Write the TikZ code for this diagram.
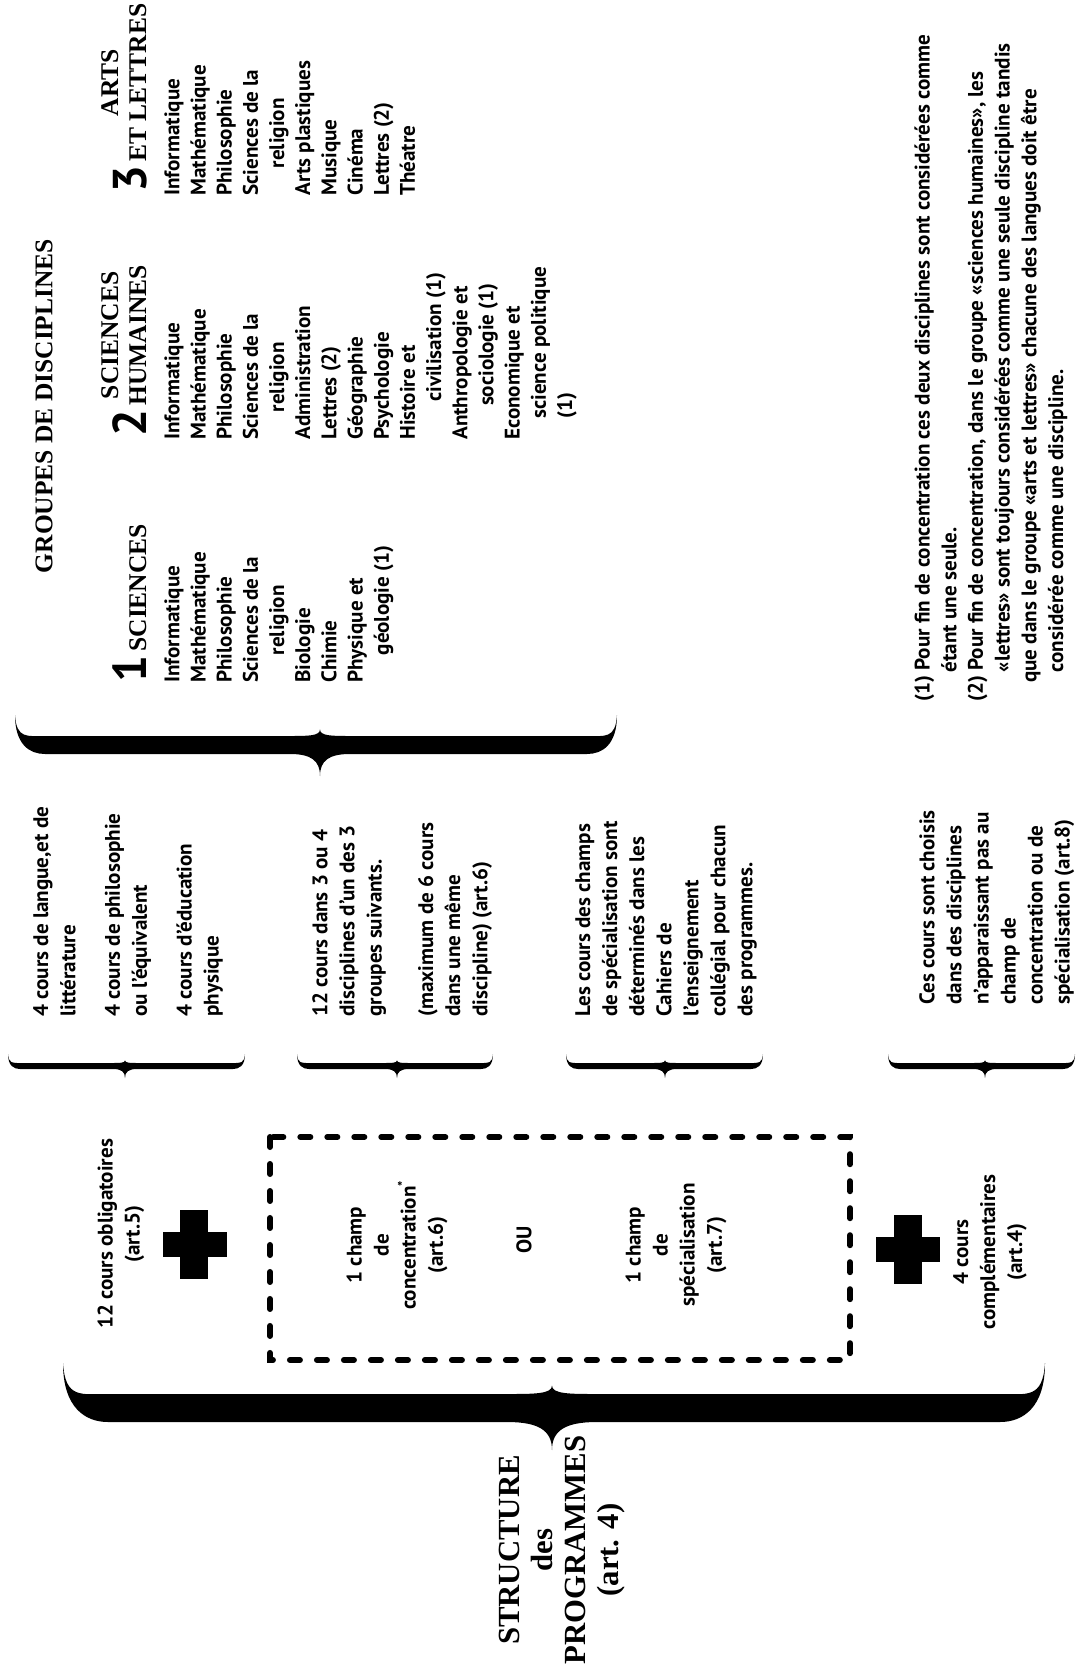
\documentclass[tikz,border=0pt]{standalone}
\usepackage{fontspec}
\setmainfont{Liberation Serif}
\setsansfont{PT Sans}

\newcommand\gnum[1]{{\sffamily\bfseries\fontsize{27}{27}\selectfont\smash{#1}}}
% filled brace: x1, x2, tip x, middle y, half width, curl, tip length
\newcommand\fatbrace[7]{%
  \fill (#1,{#4-#6}) .. controls (#1,#4) and ({#1+0.5*#6},{#4+#5}) .. ({#1+#6},{#4+#5})
    -- ({#3-#6},{#4+#5}) .. controls ({#3-0.3*#6},{#4+#5}) and (#3,{#4+#5+0.3*#7}) .. (#3,{#4+#5+#7})
    .. controls (#3,{#4+#5+0.3*#7}) and ({#3+0.3*#6},{#4+#5}) .. ({#3+#6},{#4+#5})
    -- ({#2-#6},{#4+#5}) .. controls ({#2-0.5*#6},{#4+#5}) and (#2,#4) .. (#2,{#4-#6})
    .. controls ({#2-0.05*#6},{#4-0.2*#6}) and ({#2-0.4*#6},{#4-#5}) .. ({#2-#6},{#4-#5})
    -- ({#3+#6},{#4-#5}) .. controls ({#3+0.4*#6},{#4-#5}) and (#3,{#4-#5}) .. (#3,{#4-#5-0.3*#7})
    .. controls (#3,{#4-#5}) and ({#3-0.4*#6},{#4-#5}) .. ({#3-#6},{#4-#5})
    -- ({#1+#6},{#4-#5}) .. controls ({#1+0.4*#6},{#4-#5}) and ({#1+0.05*#6},{#4-0.2*#6}) .. (#1,{#4-#6}) -- cycle;}

\tikzset{
  txt/.style={rotate=90,inner sep=0pt,font=\sffamily\bfseries\fontsize{12}{15.4}\selectfont},
  blk/.style={txt,anchor=north west,align=left},
  ctr/.style={txt,anchor=center,align=center},
  list/.style={blk,font=\sffamily\bfseries\fontsize{12}{14.9}\selectfont},
  head/.style={rotate=90,inner sep=0pt,anchor=south west,font=\rmfamily\bfseries\fontsize{14.5}{16}\selectfont},
  note/.style={blk,font=\sffamily\bfseries\fontsize{12}{15.2}\selectfont},
  dashbox/.style={line width=0.12cm,dash pattern=on 0.2cm off 0.34cm,line cap=round}
}

\begin{document}
\begin{tikzpicture}[x=0.02cm,y=-0.02cm]
\fill[white] (0,0) rectangle (1078,1669);
\useasboundingbox (0,0) rectangle (1078,1669);

% groupes de disciplines
\node [head,anchor=center] (groupes) at (44,406) {GROUPES DE DISCIPLINES};
\node [head] (sci) at (155,683) {\begin{tabular}{@{}l@{\,}c@{}}\gnum{1} & SCIENCES\end{tabular}};
\node [head] (hum) at (155,437) {\begin{tabular}{@{}l@{\,}c@{}} & SCIENCES\\ \gnum{2} & HUMAINES\end{tabular}};
\node [head] (arts) at (155,193) {\begin{tabular}{@{}l@{\,}c@{}} & ARTS\\ \gnum{3} & ET LETTRES\end{tabular}};

\node [list] (scilist) at (164,683) {Informatique\\Mathématique\\Philosophie\\Sciences de la\\\hspace*{1.3em}religion\\Biologie\\Chimie\\Physique et\\\hspace*{1.3em}géologie (1)}; %Sciences
\node [list] (humlist) at (164,440) {Informatique\\Mathématique\\Philosophie\\Sciences de la\\\hspace*{1.3em}religion\\Administration\\Lettres (2)\\Géographie\\Psychologie\\Histoire et\\\hspace*{1.8em}civilisation (1)\\Anthropologie et\\\hspace*{1.6em}sociologie (1)\\Economique et\\\hspace*{1em}science politique\\\hspace*{1em}(1)}; %Sciences humaines
\node [list] (artslist) at (164,196) {Informatique\\Mathématique\\Philosophie\\Sciences de la\\\hspace*{1.3em}religion\\Arts plastiques\\Musique\\Cinéma\\Lettres (2)\\Théatre}; %Arts et lettres

\fatbrace{15}{617}{320}{745}{9}{30}{22} %brace of groups

% details of each part
\node [blk] (obligdet) at (33,1017) {4 cours de langue,et de\\littérature\\[10pt]4 cours de philosophie\\ou l'équivalent\\[10pt]4 cours d'éducation\\physique};
\node [blk] (concdet) at (312,1017) {12 cours dans 3 ou 4\\disciplines d'un des 3\\groupes suivants.\\[14pt](maximum de 6 cours\\dans une même\\discipline) (art.6)};
\node [blk] (specdet) at (575,1017) {Les cours des champs\\de spécialisation sont\\déterminés dans les\\Cahiers de\\l'enseignement\\collégial pour chacun\\des programmes.};
\node [blk] (compldet) at (919,1005) {Ces cours sont choisis\\dans des disciplines\\n'apparaissant pas au\\champ de\\concentration ou de\\spécialisation (art.8)};

\fatbrace{8}{245}{125}{1066}{3}{12}{9}
\fatbrace{297}{493}{397}{1066}{3}{12}{9}
\fatbrace{566}{763}{665}{1066}{3}{12}{9}
\fatbrace{888}{1075}{985}{1066}{3}{12}{9}

% structure
\node [ctr] (oblig) at (121,1234) {12 cours obligatoires\\(art.5)};
\fill (180,1210) rectangle (208,1279); %plus
\fill (163,1232) rectangle (227,1257);
\draw [dashbox] (270,1137) rectangle (850,1360);
\node [ctr] (conc) at (397,1245) {1 champ\\de\\concentration\textsuperscript{*}\\(art.6)};
\node [ctr] (ou) at (524,1240) {OU};
\node [ctr] (spec) at (676,1245) {1 champ\\de\\spécialisation\\(art.7)};
\fill (894,1215) rectangle (922,1284); %plus
\fill (876,1237) rectangle (940,1262);
\node [ctr] (compl) at (990,1252) {4 cours\\complémentaires\\(art.4)};

\fatbrace{63}{1045}{552}{1408}{14}{45}{28} %big brace
\node [rotate=90,align=center,inner sep=0pt,font=\rmfamily\bfseries\fontsize{17.5}{18.7}\selectfont] (struct) at (562,1550) {STRUCTURE\\des\\PROGRAMMES\\(art. 4)};

% notes
\node [note] (notes) at (914,702) {(1) Pour fin de concentration ces deux disciplines sont considérées comme\\\hspace*{1.4em}étant une seule.\\(2) Pour fin de concentration, dans le groupe «sciences humaines», les\\\hspace*{1.4em}«lettres» sont toujours considérées comme une seule discipline tandis\\\hspace*{0.9em}que dans le groupe «arts et lettres» chacune des langues doit être\\\hspace*{1.4em}considérée comme une discipline.};

\end{tikzpicture}
\end{document}
